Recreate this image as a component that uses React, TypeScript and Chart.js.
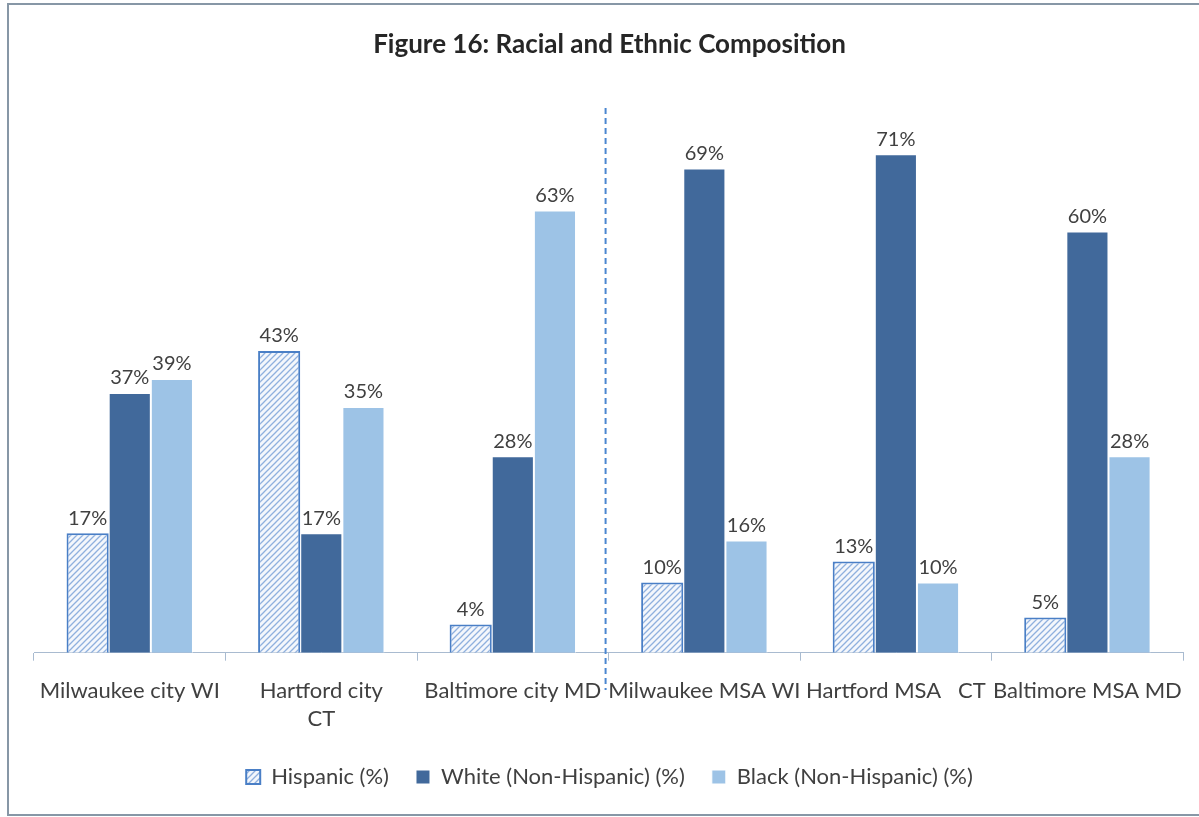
import React, { useEffect, useRef } from "react";
import { Chart, registerables } from "chart.js";

Chart.register(...registerables);

const categories: (string | string[])[] = [
  "Milwaukee city WI",
  ["Hartford city", "CT"],
  "Baltimore city MD",
  "Milwaukee MSA WI",
  "Hartford MSA   CT",
  "Baltimore MSA MD",
];
const hispanic = [17, 43, 4, 10, 13, 5];
const white = [37, 17, 28, 69, 71, 60];
const black = [39, 35, 63, 16, 10, 28];
const seriesNames = ["Hispanic (%)", "White (Non-Hispanic) (%)", "Black (Non-Hispanic) (%)"];
const titleText = "Figure 16: Racial and Ethnic Composition";
const FONT = "Lato, 'Open Sans', sans-serif";

function makeHatch(): CanvasPattern | string {
  const c = document.createElement("canvas");
  c.width = 6;
  c.height = 6;
  const g = c.getContext("2d");
  if (!g) return "#dde6f3";
  g.fillStyle = "#f4f7fc";
  g.fillRect(0, 0, 6, 6);
  g.strokeStyle = "#8fb0de";
  g.lineWidth = 1.3;
  g.beginPath();
  g.moveTo(0, 6);
  g.lineTo(6, 0);
  g.moveTo(-3, 3);
  g.lineTo(3, -3);
  g.moveTo(3, 9);
  g.lineTo(9, 3);
  g.stroke();
  const p = g.createPattern(c, "repeat");
  return p || "#dde6f3";
}

export default function App() {
  const ref = useRef<HTMLCanvasElement>(null);
  useEffect(() => {
    if (!ref.current) return;
    const hatch = makeHatch();

    const labelPlugin = {
      id: "valLabels",
      afterDatasetsDraw(chart: any) {
        const ctx = chart.ctx;
        ctx.save();
        ctx.font = `20px ${FONT}`;
        ctx.fillStyle = "#404040";
        ctx.textAlign = "center";
        ctx.textBaseline = "bottom";
        chart.data.datasets.forEach((ds: any, i: number) => {
          const meta = chart.getDatasetMeta(i);
          meta.data.forEach((el: any, j: number) => {
            ctx.fillText(ds.data[j] + "%", el.x, el.y - 5);
          });
        });
        ctx.restore();
      },
    };

    const dashPlugin = {
      id: "divider",
      afterDatasetsDraw(chart: any) {
        const xs = chart.scales.x;
        const x = (xs.getPixelForValue(2) + xs.getPixelForValue(3)) / 2 - 3;
        const ctx = chart.ctx;
        ctx.save();
        ctx.strokeStyle = "#4a86d0";
        ctx.lineWidth = 2;
        ctx.setLineDash([6, 4]);
        ctx.beginPath();
        ctx.moveTo(x, 108);
        ctx.lineTo(x, 690);
        ctx.stroke();
        ctx.restore();
      },
    };

    const legendShift = {
      id: "legendShift",
      afterLayout(chart: any) {
        if (chart.legend) {
          chart.legend.top -= 10;
          chart.legend.bottom -= 10;
        }
      },
    };

    const chart = new Chart(ref.current, {
      type: "bar",
      data: {
        labels: categories,
        datasets: [
          {
            label: seriesNames[0],
            data: hispanic,
            backgroundColor: hatch as any,
            borderColor: "#4a7fc6",
            borderWidth: 2,
          },
          {
            label: seriesNames[1],
            data: white,
            backgroundColor: "#41699b",
            borderColor: "#ffffff",
            borderWidth: 1,
          },
          {
            label: seriesNames[2],
            data: black,
            backgroundColor: "#9dc3e6",
            borderColor: "#ffffff",
            borderWidth: 1,
          },
        ],
      },
      plugins: [labelPlugin, dashPlugin, legendShift],
      options: {
        animation: false,
        responsive: true,
        maintainAspectRatio: false,
        layout: { padding: { left: 34, right: 14, top: 0, bottom: 9 } },
        datasets: { bar: { categoryPercentage: 0.66, barPercentage: 1 } },
        scales: {
          x: {
            grid: {
              offset: true,
              drawOnChartArea: false,
              drawTicks: true,
              tickLength: 8,
              color: "#a9bbd0",
            },
            border: { display: true, color: "#a9bbd0", width: 1 },
            ticks: {
              color: "#404040",
              font: { family: FONT, size: 22, lineHeight: 1.28 },
              padding: 16,
              maxRotation: 0,
              autoSkip: false,
            },
          },
          y: { display: false, min: 0, max: 80 },
        },
        plugins: {
          title: {
            display: true,
            text: titleText,
            color: "#262626",
            font: { family: FONT, size: 26, weight: "bold" },
            padding: { top: 29, bottom: 31 },
          },
          legend: {
            position: "bottom",
            labels: {
              color: "#404040",
              font: { family: FONT, size: 22 },
              boxWidth: 14,
              boxHeight: 14,
              padding: 27,
            },
          },
          tooltip: { enabled: false },
        },
      },
    });
    return () => chart.destroy();
  }, []);

  return (
    <div style={{ position: "fixed", left: 0, top: 0, width: 1199, height: 817, background: "#fff" }}>
      <canvas ref={ref} />
      <div
        style={{
          position: "absolute",
          left: 7,
          top: 3,
          width: 1192,
          height: 809,
          borderLeft: "2px solid #8797a6",
          borderTop: "2px solid #8797a6",
          borderBottom: "2px solid #8797a6",
          pointerEvents: "none",
        }}
      />
    </div>
  );
}
